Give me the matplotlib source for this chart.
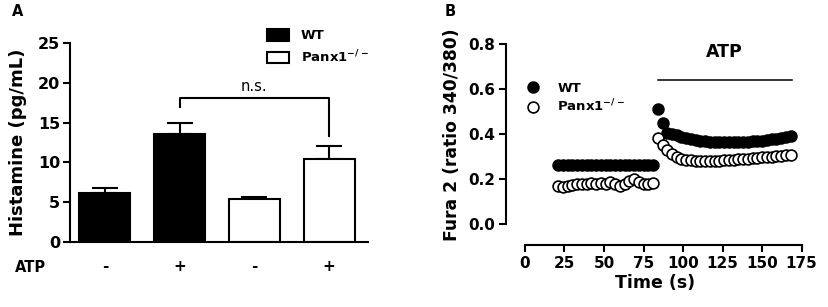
import numpy as np
import matplotlib
matplotlib.use('Agg')
import matplotlib.pyplot as plt

plt.rcParams['font.family'] = 'DejaVu Sans'
plt.rcParams['font.weight'] = 'bold'
plt.rcParams['axes.labelweight'] = 'bold'
plt.rcParams['mathtext.fontset'] = 'dejavusans'
plt.rcParams['mathtext.default'] = 'bf'

# ---- panel A data
atp = ['-', '+', '-', '+']
histamine = [6.2, 13.6, 5.45, 10.45]
sem = [0.55, 1.4, 0.2, 1.65]
bar_colors = ['black', 'black', 'white', 'white']
groups = ['WT', r'Panx1$^{-/-}$']

# ---- panel B data (time in s, ratio 340/380)
t_pre = [21, 24, 27, 30, 33, 36, 39, 42, 45, 48, 51, 54, 57, 60, 63, 66, 69, 72, 75, 78, 81]
wt_pre = [0.262, 0.261, 0.262, 0.261, 0.262, 0.262, 0.261, 0.262, 0.262, 0.261, 0.262,
          0.262, 0.261, 0.262, 0.262, 0.261, 0.262, 0.262, 0.261, 0.262, 0.262]
ko_pre = [0.168, 0.163, 0.170, 0.175, 0.178, 0.178, 0.180, 0.181, 0.178, 0.183, 0.180,
          0.185, 0.176, 0.168, 0.180, 0.190, 0.200, 0.186, 0.180, 0.179, 0.182]
t_atp = [84, 87, 90, 93, 96, 99, 102, 105, 108, 111, 114, 117, 120, 123, 126, 129, 132,
         135, 138, 141, 144, 147, 150, 153, 156, 159, 162, 165, 168]
wt_atp = [0.511, 0.447, 0.405, 0.400, 0.395, 0.388, 0.382, 0.377, 0.373, 0.370, 0.368,
          0.366, 0.365, 0.364, 0.364, 0.364, 0.364, 0.364, 0.365, 0.366, 0.367, 0.369,
          0.371, 0.373, 0.376, 0.379, 0.382, 0.385, 0.389]
ko_atp = [0.384, 0.352, 0.330, 0.312, 0.298, 0.290, 0.285, 0.283, 0.282, 0.281, 0.281,
          0.281, 0.282, 0.282, 0.283, 0.284, 0.285, 0.287, 0.288, 0.290, 0.292, 0.294,
          0.296, 0.298, 0.300, 0.302, 0.304, 0.306, 0.308]
atp_on = (84, 169)

W, H = 829, 307
fig = plt.figure(figsize=(W / 100, H / 100), dpi=100)

def fx(px):
    return px / W

def fy(py):
    return 1 - py / H

# =================== A
axA = fig.add_axes([fx(70), fy(242), fx(368) - fx(70), fy(43) - fy(242)])
x = np.arange(len(histamine))
lo = np.zeros(len(sem))
axA.bar(x, histamine, width=0.68, color=bar_colors, edgecolor='black', linewidth=1.5, zorder=2)
axA.errorbar(x, histamine, yerr=[lo, sem], fmt='none', ecolor='black', elinewidth=1.5,
             capsize=9.5, capthick=1.5, zorder=1)
axA.set_xlim(-0.467, 3.52)
axA.set_ylim(0, 25)
axA.set_yticks([0, 5, 10, 15, 20, 25])
axA.set_xticks([])
for s in ['top', 'right']:
    axA.spines[s].set_visible(False)
for s in ['left', 'bottom']:
    axA.spines[s].set_linewidth(1.5)
axA.tick_params(axis='y', width=1.5, length=5, pad=2, labelsize=11.5)

for xi, lab in zip(x, atp):
    axA.text(xi, -0.1256, lab, transform=axA.get_xaxis_transform(), ha='center', va='center',
             fontsize=11)
fig.text(fx(30), fy(267), 'ATP', ha='center', va='center', fontsize=10.5)

# n.s. bracket between the two ATP-stimulated bars
axA.plot([1, 1, 3, 3], [16.9, 18.1, 18.1, 13.35], color='black', lw=1.5, clip_on=False)
axA.text(2, 18.55, 'n.s.', ha='center', va='bottom', fontsize=10.5, fontweight='normal')

handles = [plt.Rectangle((0, 0), 1, 1, facecolor=c, edgecolor='black', linewidth=1.5)
           for c in ['black', 'white']]
fig.legend(handles, groups, loc='upper left', bbox_to_anchor=(fx(267), fy(29)),
           frameon=False, fontsize=9.5, handlelength=1.65, handleheight=1.0,
           handletextpad=0.9, labelspacing=0.45, borderpad=0, borderaxespad=0)

fig.text(fx(18.5), fy(142), 'Histamine (pg/mL)', rotation=90, ha='center', va='center',
         fontsize=13)
fig.text(fx(17.5), fy(12), 'A', ha='center', va='center', fontsize=10.5)

# =================== B
axB = fig.add_axes([fx(506), fy(245), fx(804) - fx(506), fy(44) - fy(245)])
ms, mew = 7.8, 1.2
axB.plot(t_pre, wt_pre, 'o', color='black', ms=ms, mew=mew, label='WT')
axB.plot(t_atp, wt_atp, 'o', color='black', ms=ms, mew=mew)
axB.plot(t_pre, ko_pre, 'o', mfc='white', mec='black', ms=ms, mew=mew, label=groups[1])
axB.plot(t_atp, ko_atp, 'o', mfc='white', mec='black', ms=ms, mew=mew)
axB.plot(atp_on, [0.64, 0.64], color='black', lw=1.1)
axB.text(np.mean(atp_on) - 0.5, 0.766, 'ATP', ha='center', va='center', fontsize=12.5)

axB.set_xlim(-12.0, 176.5)
axB.set_ylim(-0.0933, 0.8)
axB.set_xticks([0, 25, 50, 75, 100, 125, 150, 175])
axB.set_yticks([0.0, 0.2, 0.4, 0.6, 0.8])
axB.set_yticklabels(['0.0', '0.2', '0.4', '0.6', '0.8'])
for s in ['top', 'right']:
    axB.spines[s].set_visible(False)
for s in ['left', 'bottom']:
    axB.spines[s].set_linewidth(1.5)
axB.spines['left'].set_bounds(0, 0.8)
axB.spines['bottom'].set_bounds(0, 175)
axB.tick_params(width=1.5, length=5, labelsize=11)
axB.tick_params(axis='y', pad=3)
axB.tick_params(axis='x', pad=3)
axB.set_xlabel('Time (s)', fontsize=12.5, labelpad=2)
axB.legend(loc='upper left', bbox_to_anchor=(fx(525.5), fy(81.5)),
           bbox_transform=fig.transFigure, frameon=False, fontsize=9.5,
           handlelength=1.2, handletextpad=1.2, labelspacing=0.25,
           borderpad=0, borderaxespad=0)

fig.text(fx(452), fy(135), 'Fura 2 (ratio 340/380)', rotation=90, ha='center', va='center',
         fontsize=12.3)
fig.text(fx(450), fy(12), 'B', ha='center', va='center', fontsize=10.5)

fig.savefig('out.png', dpi=100)
